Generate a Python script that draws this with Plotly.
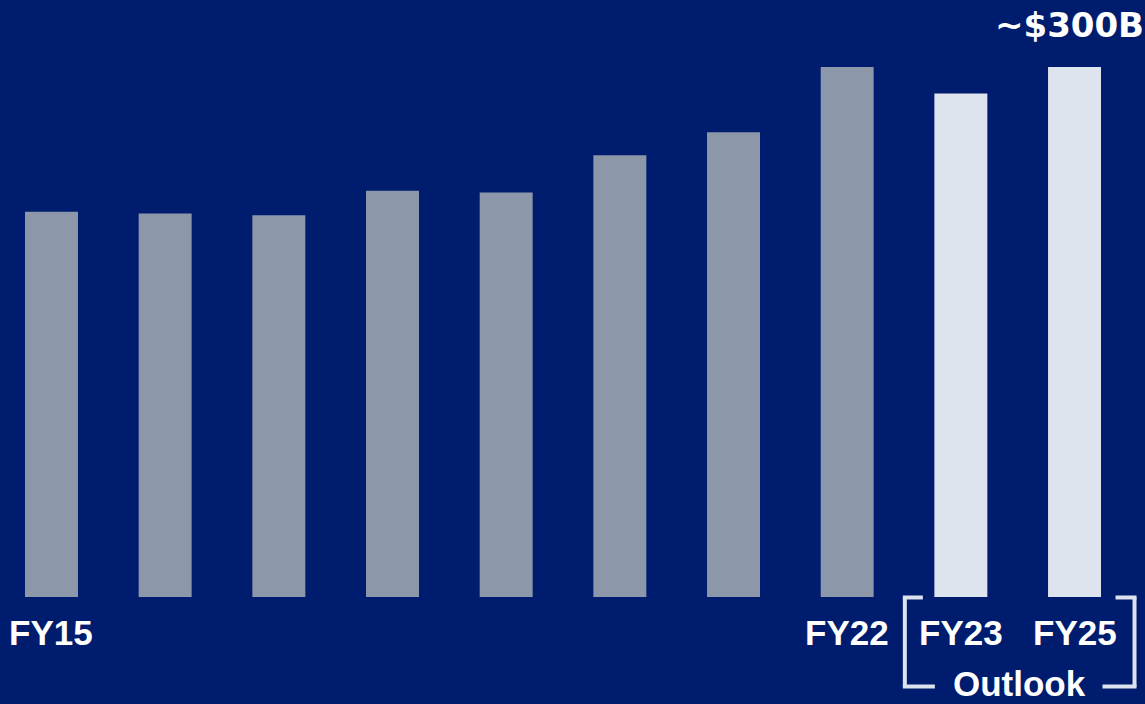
import plotly.graph_objects as go

categories = ["FY15", "FY16", "FY17", "FY18", "FY19", "FY20", "FY21", "FY22", "FY23", "FY25"]
values = [218, 217, 216, 230, 229, 250, 263, 300, 285, 300]
bar_colors = ["#8C98AA"] * 8 + ["#DEE4EE"] * 2
tick_labels = {"FY15": "FY15", "FY22": "FY22", "FY23": "FY23", "FY25": "FY25"}
top_label = "~$300B"
outlook_label = "Outlook"

BG = "#001C6E"
FONT = "Liberation Sans, Arial, sans-serif"

x_idx = list(range(len(categories)))

fig = go.Figure()
fig.add_trace(go.Bar(
    x=x_idx, y=values, marker=dict(color=bar_colors, line=dict(width=0)),
    width=0.466, hoverinfo="skip",
))

annotations = []
for i, c in enumerate(categories):
    if c in tick_labels:
        annotations.append(dict(
            x=i, y=0, xref="x", yref="y", text=f"<b>{tick_labels[c]}</b>",
            showarrow=False, yanchor="middle", yshift=-36,
            font=dict(family=FONT, size=35, color="white"),
        ))

last = len(categories) - 1
annotations.append(dict(
    x=1, xref="paper", y=values[last], yref="y", text=f"<b>{top_label}</b>",
    showarrow=False, xanchor="right", yanchor="middle", yshift=42, xshift=1,
    font=dict(family="DejaVu Sans, sans-serif", size=34, color="white"),
))
annotations.append(dict(
    x=(last - 1 + last) / 2 + 0.02, y=0, xref="x", yref="y", text=f"<b>{outlook_label}</b>",
    showarrow=False, yanchor="middle", yshift=-87, borderpad=0,
    font=dict(family=FONT, size=35, color="white"),
))

# bracket around outlook labels
px = 1 / 113.67  # data units per pixel (x)
py = 300 / 530   # data units per pixel (y)
xl = (last - 1) - 56 * px
xr = last + 60 * px
yt = -0.5 * py
yb = -89.5 * py
br_col = "#DDE3EE"
lw = 4
shapes = [
    dict(type="line", x0=xl, x1=xl, y0=yt, y1=yb, xref="x", yref="y", line=dict(color=br_col, width=lw)),
    dict(type="line", x0=xl - 2 * px, x1=xl + 18 * px, y0=yt, y1=yt, xref="x", yref="y", line=dict(color=br_col, width=lw)),
    dict(type="line", x0=xl - 2 * px, x1=xl + 30 * px, y0=yb, y1=yb, xref="x", yref="y", line=dict(color=br_col, width=lw)),
    dict(type="line", x0=xr, x1=xr, y0=yt, y1=yb, xref="x", yref="y", line=dict(color=br_col, width=lw)),
    dict(type="line", x0=xr - 19 * px, x1=xr + 2 * px, y0=yt, y1=yt, xref="x", yref="y", line=dict(color=br_col, width=lw)),
    dict(type="line", x0=xr - 32 * px, x1=xr + 2 * px, y0=yb, y1=yb, xref="x", yref="y", line=dict(color=br_col, width=lw)),
]

fig.update_layout(
    width=1145, height=704,
    margin=dict(l=0, r=0, t=0, b=0),
    paper_bgcolor=BG, plot_bgcolor=BG,
    showlegend=False,
    annotations=annotations,
    shapes=shapes,
    xaxis=dict(range=[-0.453, 9.62], visible=False, fixedrange=True),
    yaxis=dict(range=[-60.57, 337.9], visible=False, fixedrange=True),
)

fig.write_html("out.html", config={"displayModeBar": False})
